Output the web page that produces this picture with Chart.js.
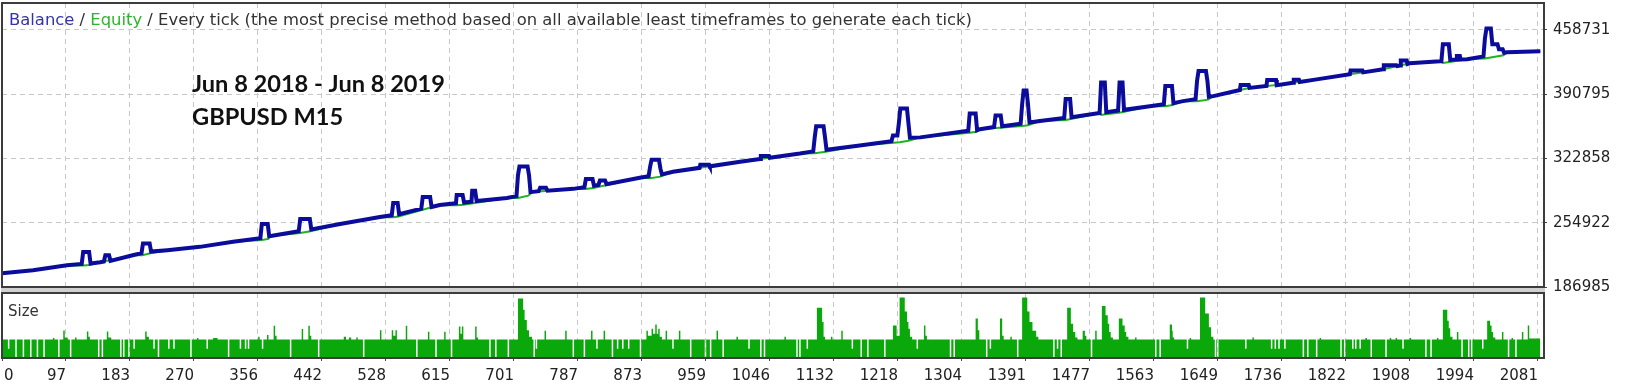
<!DOCTYPE html>
<html>
<head>
<meta charset="utf-8">
<script src="https://cdn.jsdelivr.net/npm/chart.js@4.4.1/dist/chart.umd.min.js"></script>
<style>
    html, body { margin: 0; padding: 0; background: #fff; }
    #wrap { position: relative; width: 1627px; height: 388px; overflow: hidden; background: #fff; }
    #main { position: absolute; left: 0; top: 0; }
    #size { position: absolute; left: 0; top: 288px; }
</style>
</head>
<body>
<div id="wrap">
    <canvas id="main" width="1627" height="300"></canvas>
    <canvas id="size" width="1627" height="100"></canvas>
</div>
<script>
const xTickLabels = ['0', '97', '183', '270', '356', '442', '528', '615', '701', '787', '873', '959', '1046',
    '1132', '1218', '1304', '1391', '1477', '1563', '1649', '1736', '1822', '1908', '1994', '2081'];
const xTickStep = 86.7;
const xMax = 2089;
const yTicks = [186985, 254922, 322858, 390795, 458731];
const yMin = 186985;
const yMax = 487100;
const sizeMax = 3.5;

const headerParts = [
    ['Balance', '#3434a8'],
    [' / ', '#333333'],
    ['Equity', '#2db52d'],
    [' / Every tick (the most precise method based on all available least timeframes to generate each tick)', '#333333'],
];
const noteLines = ['Jun 8 2018 - Jun 8 2019', 'GBPUSD M15'];

// balance by trade number
const balanceX = [
    0, 42, 88, 108, 110, 118, 120, 133, 138, 140, 145, 147,
    177, 189, 191, 200, 202, 224, 268, 313, 350, 352, 360, 362,
    366, 402, 404, 417, 419, 458, 512, 528, 530, 536, 538, 568,
    570, 580, 582, 593, 615, 616, 624, 626, 636, 637, 641, 643,
    684, 697, 699, 701, 712, 714, 716, 719, 727, 729, 737, 739,
    774, 789, 791, 800, 802, 808, 810, 817, 819, 864, 876, 878,
    880, 890, 892, 894, 909, 945, 946, 958, 959, 1000, 1027, 1028,
    1039, 1040, 1081, 1099, 1101, 1103, 1113, 1115, 1117, 1162, 1205, 1207,
    1213, 1215, 1217, 1226, 1228, 1230, 1244, 1309, 1311, 1319, 1321, 1325,
    1344, 1346, 1353, 1355, 1380, 1382, 1384, 1388, 1390, 1392, 1406, 1439,
    1441, 1447, 1449, 1487, 1489, 1494, 1496, 1512, 1514, 1518, 1520, 1555,
    1574, 1576, 1585, 1587, 1600, 1617, 1619, 1621, 1631, 1633, 1635, 1641,
    1677, 1678, 1689, 1690, 1713, 1714, 1726, 1727, 1749, 1750, 1757, 1758,
    1781, 1826, 1827, 1843, 1844, 1871, 1872, 1889, 1890, 1894, 1895, 1903,
    1904, 1907, 1948, 1950, 1952, 1960, 1962, 1970, 1971, 1975, 1976, 1985,
    2007, 2009, 2011, 2017, 2019, 2026, 2028, 2033, 2035, 2039, 2084,
];
const balanceY = [
    201500, 204700, 210000, 211400, 224100, 224100, 211800, 213200, 214000, 220600, 220600, 214600,
    220600, 222800, 233000, 233000, 224500, 225900, 229400, 234800, 238500, 253500, 253500, 240700,
    241100, 245900, 258800, 258800, 247900, 253500, 261000, 262900, 275800, 275800, 263900, 269800,
    282200, 282200, 271500, 273700, 275500, 284300, 284300, 276300, 277200, 288600, 288600, 277800,
    281100, 283000, 305000, 314400, 314400, 305000, 287300, 287500, 288200, 291800, 291800, 288800,
    290700, 292500, 301000, 301000, 294000, 294800, 299500, 299500, 295700, 302400, 304100, 314000,
    321500, 321500, 312000, 305900, 308700, 312900, 316100, 316100, 314500, 319400, 322300, 325500,
    325500, 323500, 328000, 330300, 345000, 356900, 356900, 345000, 332000, 336600, 341000, 347000,
    347000, 360000, 375600, 375600, 360000, 344700, 345100, 352000, 370300, 370300, 352600, 353700,
    356000, 368200, 368200, 356900, 359400, 380000, 394700, 394700, 380000, 360900, 362300, 365600,
    385600, 385600, 366500, 370900, 403200, 403200, 371700, 373400, 403200, 403200, 374200, 378100,
    380100, 399300, 399300, 381300, 383400, 385500, 405000, 415200, 415200, 405000, 388000, 388700,
    395100, 400400, 400400, 397400, 399400, 405800, 405800, 400300, 402700, 405900, 405900, 403700,
    406400, 411700, 415900, 415900, 413800, 417000, 421400, 421400, 420400, 421100, 426400, 426400,
    422700, 423400, 425500, 425700, 443500, 443500, 427000, 427300, 431100, 431100, 427400, 427600,
    430700, 450000, 460200, 460200, 443500, 443500, 438200, 438200, 434500, 435100, 436100,
];

// equity by trade number
const equityX = [
    0, 42, 88, 110, 119, 133, 177, 190, 201, 224, 268, 313,
    352, 361, 363, 404, 418, 458, 512, 530, 537, 593, 616, 625,
    684, 699, 713, 719, 774, 791, 801, 864, 878, 892, 909, 1000,
    1081, 1101, 1116, 1162, 1216, 1228, 1244, 1311, 1320, 1325, 1382, 1390,
    1406, 1441, 1448, 1487, 1489, 1495, 1513, 1519, 1555, 1576, 1586, 1600,
    1619, 1634, 1641, 1691, 1735, 1781, 1826, 1871, 1907, 1948, 1952, 1961,
    1985, 2009, 2034, 2039, 2084,
];
const equityY = [
    201500, 204700, 210000, 209600, 210200, 213200, 220600, 220600, 222600, 225900, 229400, 234800,
    236600, 237800, 240800, 244000, 245800, 253500, 261000, 260800, 261500, 273700, 273500, 274000,
    281100, 281000, 283500, 287500, 290700, 290500, 291500, 302400, 302000, 303600, 308700, 319400,
    328000, 328300, 329800, 336600, 340000, 341500, 345100, 350000, 351000, 353700, 357000, 358000,
    362300, 363500, 364500, 370900, 368800, 369600, 371200, 372000, 378100, 378000, 379200, 383400,
    383200, 385000, 388700, 397600, 401100, 406400, 411700, 417000, 423400, 425500, 423700, 424800,
    427600, 428500, 431800, 435100, 436100,
];

// position size, each value holds until the next trade number
const sizeX = [
    0, 8, 10, 18, 20, 28, 30, 38, 40, 47, 49, 56,
    58, 69, 71, 76, 78, 83, 85, 89, 92, 94, 99, 101,
    115, 117, 119, 130, 132, 135, 137, 142, 144, 148, 160, 162,
    164, 166, 171, 173, 178, 180, 194, 196, 199, 205, 207, 211,
    213, 225, 227, 232, 234, 255, 257, 264, 266, 277, 279, 286,
    292, 306, 308, 322, 324, 329, 331, 333, 335, 347, 349, 352,
    354, 359, 361, 368, 370, 372, 390, 392, 406, 408, 415, 417,
    419, 428, 430, 463, 466, 470, 473, 480, 482, 489, 491, 512,
    514, 528, 530, 533, 535, 547, 549, 561, 563, 577, 579, 587,
    589, 599, 601, 608, 610, 619, 621, 623, 625, 641, 643, 645,
    660, 662, 668, 670, 685, 687, 699, 706, 708, 711, 714, 718,
    720, 722, 723, 725, 735, 737, 763, 765, 773, 775, 788, 790,
    798, 800, 805, 807, 815, 817, 826, 828, 833, 835, 840, 842,
    848, 850, 864, 866, 873, 875, 880, 882, 885, 887, 889, 891,
    894, 899, 901, 908, 910, 917, 919, 932, 934, 952, 954, 959,
    961, 968, 970, 976, 978, 995, 997, 1011, 1013, 1027, 1029, 1032,
    1034, 1060, 1062, 1076, 1078, 1080, 1082, 1090, 1092, 1104, 1111, 1113,
    1115, 1123, 1125, 1137, 1139, 1151, 1153, 1163, 1165, 1172, 1174, 1195,
    1197, 1207, 1212, 1216, 1223, 1226, 1228, 1230, 1233, 1239, 1241, 1249,
    1251, 1253, 1284, 1286, 1289, 1291, 1319, 1322, 1324, 1333, 1335, 1338,
    1340, 1352, 1355, 1357, 1366, 1368, 1375, 1377, 1382, 1389, 1392, 1396,
    1401, 1404, 1424, 1426, 1429, 1431, 1434, 1436, 1443, 1448, 1451, 1454,
    1457, 1464, 1467, 1469, 1475, 1477, 1481, 1483, 1490, 1495, 1498, 1500,
    1502, 1505, 1513, 1518, 1521, 1523, 1526, 1535, 1537, 1562, 1564, 1568,
    1570, 1582, 1585, 1586, 1588, 1605, 1607, 1609, 1611, 1623, 1630, 1635,
    1638, 1641, 1643, 1645, 1646, 1648, 1684, 1686, 1694, 1696, 1719, 1721,
    1724, 1726, 1729, 1731, 1737, 1739, 1762, 1764, 1768, 1770, 1780, 1782,
    1785, 1787, 1813, 1815, 1818, 1820, 1829, 1831, 1833, 1835, 1839, 1841,
    1847, 1849, 1854, 1856, 1874, 1876, 1880, 1882, 1888, 1890, 1897, 1899,
    1907, 1909, 1928, 1930, 1935, 1937, 1944, 1946, 1952, 1958, 1960, 1962,
    1965, 1971, 1973, 1977, 1979, 1986, 1988, 1990, 1992, 2005, 2007, 2012,
    2016, 2018, 2020, 2023, 2032, 2034, 2040, 2042, 2045, 2047, 2050, 2052,
    2059, 2061, 2067, 2069, 2084,
];
const sizeY = [
    1, 0.5, 1, 0, 1, 0, 1, 0, 1, 0, 1, 0,
    1, 1.08, 1, 0, 1, 1.48, 1.1, 1, 0, 1, 1.1, 1,
    1.43, 1.15, 1, 0, 1, 0, 1, 1.43, 1.1, 1, 0, 1,
    0, 1, 0, 1, 0.5, 1, 1.43, 1.15, 1, 0.5, 1, 0,
    1, 0.5, 1, 0.5, 1, 0, 1, 1.08, 1, 0.5, 1, 1.08,
    1, 0, 1, 0.5, 1, 0.5, 1, 0.5, 1, 1.15, 1, 0.5,
    1, 1.24, 1, 1.74, 1.2, 1, 0, 1, 1.56, 1, 1.74, 1.2,
    1, 0, 1, 1.15, 1, 1.1, 1, 1.1, 1, 0, 1, 1.5,
    1, 1.5, 1.2, 1.5, 1, 1.73, 1, 0, 1, 1.42, 1, 0,
    1, 1.42, 1, 0, 1, 1.7, 1.3, 1.7, 1, 1.7, 1.1, 1,
    0, 1, 0, 1, 0, 1, 3.2, 2.6, 2.05, 1.5, 1.15, 1,
    0, 1, 0.5, 1, 1.47, 1, 1.47, 1, 0, 1, 0, 1,
    1.47, 1, 0.5, 1, 1.47, 1, 0, 1, 0.5, 1, 0.5, 1,
    0.5, 1, 0, 1, 1.47, 1.2, 1.57, 1.3, 1.8, 1.3, 1.57, 1.15,
    1, 1.47, 1, 0.5, 1, 1.47, 1, 0, 1, 0, 1, 0,
    1, 1.47, 1, 0, 1, 1.15, 1, 0.5, 1, 0, 1, 0,
    1, 1.15, 1, 0, 1, 0, 1, 0.5, 1, 2.7, 1.94, 1.15,
    1, 1.15, 1, 1.47, 1, 0.5, 1, 0, 1, 0, 1, 0,
    1, 1.75, 1.2, 3.26, 2.5, 1.94, 1.57, 1.15, 1, 0.5, 1, 1.75,
    1.2, 1, 0, 1, 0, 1, 2.13, 1.5, 1, 0, 1, 0.5,
    1, 2.13, 1.2, 1, 1.15, 1, 0, 1, 3.26, 2.5, 1.94, 1.47,
    1.15, 1, 0, 1, 0.5, 1, 0, 1, 2.7, 1.85, 1.4, 1.1,
    1, 1.47, 1.2, 1, 0, 1, 1.47, 1, 2.8, 2.3, 1.85, 1.4,
    1.1, 1, 2.13, 1.75, 1.4, 1.15, 1, 1.1, 1, 0, 1, 0,
    1, 1.8, 1.47, 1.1, 1, 0.5, 1, 1.08, 1, 3.26, 2.4, 1.66,
    1.15, 1, 0, 1, 0, 1, 0.5, 1, 1.1, 1, 0.5, 1,
    0.5, 1, 0.5, 1, 0.5, 1, 0, 1, 0, 1, 0, 1,
    1.08, 1, 0, 1, 0, 1, 0.5, 1, 0.5, 1, 0.5, 1,
    1.08, 1, 0, 1, 0, 1, 1.08, 1, 1.08, 1, 0.5, 1,
    1.08, 1, 0, 1, 0, 1, 1.08, 1, 2.6, 2.0, 1.6, 1.15,
    1, 1.4, 1, 0, 1, 0, 1, 0, 1, 0.5, 1, 2.0,
    1.75, 1.4, 1.1, 1, 1.4, 1, 0, 1, 1.08, 1, 0, 1,
    1.4, 1, 1.75, 1.05, 1.05,
];

const gridColor = '#c8c8c8';
const frameColor = '#3c3c3c';
const textColor = '#222222';
const labelFont = { family: 'DejaVu Sans', size: 15 };

const pairs = (xs, ys) => xs.map((x, i) => ({ x, y: ys[i] }));

const setXTicks = (scale) => {
    scale.ticks = xTickLabels.map((_, i) => ({ value: i * xTickStep }));
};

const mainDecor = {
    id: 'mainDecor',
    afterDraw(chart) {
        const { ctx, chartArea: a } = chart;
        ctx.save();
        ctx.strokeStyle = frameColor;
        ctx.lineWidth = 2;
        ctx.strokeRect(a.left, a.top, a.right - a.left, a.bottom - a.top);

        ctx.font = '16.4px "DejaVu Sans"';
        ctx.textBaseline = 'alphabetic';
        let x = 9;
        headerParts.forEach(([text, color]) => {
            ctx.fillStyle = color;
            ctx.fillText(text, x, 25);
            x += ctx.measureText(text).width;
        });

        ctx.font = 'bold 23.6px Lato';
        ctx.fillStyle = '#111111';
        ctx.fillText(noteLines[0], 192, 92);
        ctx.fillText(noteLines[1], 192, 125);
        ctx.restore();
    },
};

const sizeDecor = {
    id: 'sizeDecor',
    afterDraw(chart) {
        const { ctx, chartArea: a } = chart;
        const xs = chart.scales.x;
        ctx.save();
        ctx.fillStyle = '#d0d0d0';
        ctx.fillRect(1, 0, a.right, 4);
        ctx.strokeStyle = frameColor;
        ctx.lineWidth = 2;
        ctx.strokeRect(a.left, a.top, a.right - a.left, a.bottom - a.top);

        ctx.font = '15px "DejaVu Sans"';
        ctx.fillStyle = '#333333';
        ctx.textBaseline = 'alphabetic';
        ctx.fillText('Size', 8, 28);

        ctx.fillStyle = textColor;
        ctx.textBaseline = 'middle';
        ctx.fillText(xTickLabels[0], 4, xs.top + 9 + 9);
        ctx.restore();
    },
};

new Chart(document.getElementById('main'), {
    type: 'line',
    data: {
        datasets: [
            {
                label: 'Balance',
                data: pairs(balanceX, balanceY),
                borderColor: '#0b0b9c',
                borderWidth: 4,
                pointRadius: 0,
                tension: 0,
                order: 0,
            },
            {
                label: 'Equity',
                data: pairs(equityX, equityY),
                borderColor: '#1fb41f',
                borderWidth: 2,
                pointRadius: 0,
                tension: 0,
                order: 1,
            },
        ],
    },
    options: {
        responsive: false,
        animation: false,
        devicePixelRatio: 1,
        layout: { padding: { left: 2, top: 3, right: 0, bottom: 13 } },
        plugins: { legend: { display: false }, tooltip: { enabled: false } },
        scales: {
            x: {
                type: 'linear',
                min: 0,
                max: xMax,
                afterBuildTicks: setXTicks,
                ticks: { display: false },
                grid: { color: gridColor, drawTicks: false },
                border: { display: false, dash: [5, 4] },
                afterFit: (s) => {
                    s.height = 0;
                    s.paddingLeft = 0;
                    s.paddingRight = 0;
                },
            },
            y: {
                position: 'right',
                min: yMin,
                max: yMax,
                afterBuildTicks: (s) => {
                    s.ticks = yTicks.map((v) => ({ value: v }));
                },
                ticks: { font: labelFont, color: textColor, padding: 6, callback: (v) => String(v) },
                grid: { color: gridColor, tickColor: '#444444', tickLength: 3, tickBorderDash: [] },
                border: { display: false, dash: [5, 4] },
                afterFit: (s) => {
                    s.width = 83;
                    s.paddingTop = 0;
                    s.paddingBottom = 0;
                },
            },
        },
    },
    plugins: [mainDecor],
});

new Chart(document.getElementById('size'), {
    type: 'line',
    data: {
        datasets: [
            {
                label: 'Size',
                data: pairs(sizeX, sizeY),
                stepped: true,
                fill: 'origin',
                backgroundColor: '#0aa80a',
                borderColor: 'rgba(0,0,0,0)',
                borderWidth: 0,
                pointRadius: 0,
            },
        ],
    },
    options: {
        responsive: false,
        animation: false,
        devicePixelRatio: 1,
        layout: { padding: { left: 2, top: 5, right: 83, bottom: 0 } },
        plugins: { legend: { display: false }, tooltip: { enabled: false } },
        scales: {
            x: {
                type: 'linear',
                min: 0,
                max: xMax,
                afterBuildTicks: setXTicks,
                ticks: {
                    font: labelFont,
                    color: textColor,
                    align: 'end',
                    padding: 6,
                    maxRotation: 0,
                    autoSkip: false,
                    callback: (v, i) => (i === 0 ? '' : xTickLabels[i]),
                },
                grid: { color: gridColor, tickColor: '#444444', tickLength: 3, tickBorderDash: [] },
                border: { display: false, dash: [5, 4] },
                afterFit: (s) => {
                    s.height = 30;
                    s.paddingLeft = 0;
                    s.paddingRight = 0;
                },
            },
            y: { display: false, min: 0, max: sizeMax },
        },
    },
    plugins: [sizeDecor],
});
</script>
</body>
</html>
